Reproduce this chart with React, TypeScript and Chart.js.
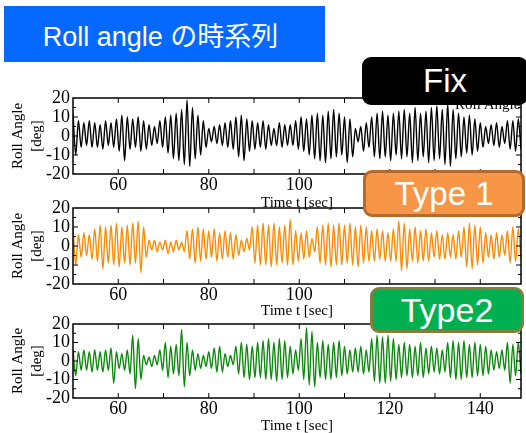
import React, { useEffect, useRef } from 'react';
import { Chart, registerables } from 'chart.js';

Chart.register(...registerables);

// ---- data ----
const timeStart = 50;
const timeStep = 0.6;
const xMin = 50;
const xMax = 149;
const yMin = -20;
const yMax = 20;
const xLabelValues = [60, 80, 100, 120, 140];
const yLabelValues = [20, 10, 0, -10, -20];

const fixValues = [
  12, -10, 8, -6, 7, -5, 8, -6, 7, -6,
  6, -7, 8, -5, 7, -6, 9, -8, 11, -13,
  10, -7, 9, -6, 10, -8, 8, -7, 6, -5,
  5, -4, 8, -6, 10, -9, 11, -12, 12, -13,
  14, -15, 19, -16, 15, -12, 11, -10, 8, -6,
  4, -3, 5, -4, 6, -5, 7, -6, 8, -7,
  10, -11, 11, -13, 9, -8, 8, -7, 7, -6,
  8, -7, 6, -5, 4, -5, 7, -6, 6, -5,
  6, -5, 8, -7, 10, -8, 9, -10, 11, -12,
  12, -13, 11, -14, 13, -12, 14, -11, 12, -10,
  10, -14, 9, -11, 4, -3, 5, -8, 7, -6,
  10, -11, 12, -12, 13, -11, 11, -13, 12, -10,
  13, -12, 14, -11, 12, -14, 15, -13, 12, -11,
  13, -14, 15, -13, 16, -12, 14, -15, 17, -16,
  14, -12, 12, -11, 10, -9, 11, -10, 9, -8,
  7, -6, 5, -4, 6, -5, 7, -6, 5, -4,
  8, -7, 8, -8, 9, -7,
];

const type1Values = [
  10, -10, 6, -6, 7, -5, 6, -7, 9, -8,
  11, -12, 10, -9, 11, -10, 12, -11, 10, -9,
  11, -10, 12, -9, 13, -14, 10, -6, 3, -2,
  3, -3, 2, -2, 3, -4, 2, -3, 3, -2,
  2, -3, 8, -7, 9, -9, 10, -8, 9, -7,
  8, -6, 9, -8, 7, -7, 8, -6, 7, -7,
  6, -5, 3, -3, 4, -2, 10, -9, 11, -10,
  12, -10, 11, -11, 12, -10, 10, -9, 11, -10,
  14, -10, 8, -8, 7, -7, 8, -6, 4, -3,
  10, -9, 11, -10, 12, -11, 11, -10, 12, -10,
  11, -9, 12, -10, 10, -11, 11, -9, 10, -8,
  8, -8, 9, -7, 8, -8, 7, -8, 9, -8,
  13, -13, 12, -12, 9, -8, 10, -9, 8, -8,
  9, -8, 7, -6, 8, -7, 6, -7, 7, -6,
  6, -7, 8, -6, 10, -11, 12, -12, 11, -10,
  10, -9, 7, -6, 6, -7, 7, -6, 6, -5,
  8, -9, 10, -8, 9, -7,
];

const type2Values = [
  6, -8, 5, -5, 6, -5, 5, -6, 6, -5,
  5, -6, 6, -5, 7, -12, 5, -4, 4, -5,
  6, -7, 14, -15, 12, -10, 3, -2, 2, -3,
  3, -2, 6, -5, 10, -9, 8, -7, 9, -8,
  17, -14, 10, -8, 6, -5, 4, -4, 3, -3,
  5, -4, 7, -6, 8, -6, 4, -3, 3, -2,
  8, -7, 10, -9, 9, -10, 8, -9, 10, -9,
  11, -10, 12, -10, 10, -11, 12, -10, 11, -9,
  8, -7, 6, -5, 12, -10, 18, -13, 16, -14,
  10, -9, 11, -10, 9, -10, 10, -9, 11, -8,
  8, -7, 6, -6, 7, -6, 8, -7, 6, -6,
  12, -11, 14, -12, 13, -12, 14, -11, 12, -10,
  9, -9, 10, -8, 9, -9, 8, -8, 10, -9,
  7, -7, 8, -6, 7, -7, 6, -6, 10, -9,
  11, -10, 10, -10, 11, -9, 9, -9, 10, -8,
  9, -8, 8, -7, 6, -5, 5, -4, 6, -5,
  10, -12, 9, -8, 10, -7,
];

const times = fixValues.map((_, i) => timeStart + i * timeStep);

const SERIF = '"Liberation Serif", "Times New Roman", serif';
const SANS = '"Liberation Sans", Arial, "Noto Sans CJK JP", sans-serif';

const framePlugin = {
  id: 'frame',
  afterDatasetsDraw(chart: any) {
    const { ctx, chartArea: a, scales } = chart;
    const xs = scales.x;
    const ys = scales.y;
    ctx.save();
    ctx.strokeStyle = '#000';
    ctx.lineWidth = 1.5;
    ctx.strokeRect(a.left, a.top, a.right - a.left, a.bottom - a.top);
    ctx.lineWidth = 1;
    ctx.beginPath();
    xs.ticks.forEach((t: any) => {
      const px = xs.getPixelForValue(t.value);
      if (px <= a.left + 1 || px >= a.right - 1) return;
      ctx.moveTo(px, a.bottom);
      ctx.lineTo(px, a.bottom - 5);
      ctx.moveTo(px, a.top);
      ctx.lineTo(px, a.top + 5);
    });
    const yt = ys.ticks.map((t: any) => t.value);
    yt.forEach((v: number, i: number) => {
      const py = ys.getPixelForValue(v);
      if (py > a.top + 1 && py < a.bottom - 1) {
        ctx.moveTo(a.left, py);
        ctx.lineTo(a.left + 5, py);
        ctx.moveTo(a.right, py);
        ctx.lineTo(a.right - 5, py);
      }
      if (i < yt.length - 1) {
        const pm = ys.getPixelForValue((v + yt[i + 1]) / 2);
        ctx.moveTo(a.left, pm);
        ctx.lineTo(a.left + 3, pm);
        ctx.moveTo(a.right, pm);
        ctx.lineTo(a.right - 3, pm);
      }
    });
    ctx.stroke();
    ctx.restore();
  },
};

type RollProps = {
  values: number[];
  color: string;
  top: number;
  plotHeight: number;
  titlePadBottom: number;
};

function RollChart({ values, color, top, plotHeight, titlePadBottom }: RollProps) {
  const ref = useRef<HTMLCanvasElement>(null);
  const padTop = 8;
  const axisH = 40;
  const height = padTop + plotHeight + axisH;
  useEffect(() => {
    if (!ref.current) return;
    const chart = new Chart(ref.current, {
      type: 'line',
      data: {
        datasets: [
          {
            data: times.map((t, i) => ({ x: t, y: values[i] })),
            borderColor: color,
            borderWidth: 1.4,
            pointRadius: 0,
            fill: false,
            cubicInterpolationMode: 'monotone',
          },
        ],
      },
      options: {
        animation: false,
        responsive: false,
        maintainAspectRatio: false,
        events: [],
        layout: { padding: { top: padTop, right: 5, left: 0, bottom: 0 } },
        plugins: { legend: { display: false }, tooltip: { enabled: false } },
        scales: {
          x: {
            type: 'linear',
            min: xMin,
            max: xMax,
            grid: { display: false, drawTicks: false },
            border: { display: false },
            ticks: {
              stepSize: 10,
              autoSkip: false,
              maxRotation: 0,
              padding: 2,
              color: '#000',
              font: { family: SERIF, size: 18, lineHeight: 1 },
              callback: (v: any) => (xLabelValues.includes(Number(v)) ? String(v) : ''),
            },
            title: {
              display: true,
              text: 'Time t [sec]',
              color: '#000',
              font: { family: SERIF, size: 15, lineHeight: 1.2 },
              padding: { top: 0, bottom: titlePadBottom },
            },
            afterFit: (s: any) => {
              s.height = axisH;
            },
          },
          y: {
            type: 'linear',
            min: yMin,
            max: yMax,
            grid: { display: false, drawTicks: false },
            border: { display: false },
            ticks: {
              stepSize: 10,
              autoSkip: false,
              padding: 3,
              color: '#000',
              font: { family: SERIF, size: 18, lineHeight: 1 },
              callback: (v: any) => (yLabelValues.includes(Number(v)) ? String(v) : ''),
            },
            title: {
              display: true,
              text: ['Roll Angle', '[deg]'],
              color: '#000',
              font: { family: SERIF, size: 15, lineHeight: 1.3 },
              padding: { top: 8, bottom: 0 },
            },
            afterFit: (s: any) => {
              s.width = 73;
            },
          },
        },
      },
      plugins: [framePlugin],
    } as any);
    return () => chart.destroy();
  }, []);
  return (
    <canvas
      ref={ref}
      width={526}
      height={height}
      style={{ position: 'absolute', left: 0, top: top, width: 526, height: height }}
    />
  );
}

const boxBase: React.CSSProperties = {
  position: 'absolute',
  boxSizing: 'border-box',
  display: 'flex',
  alignItems: 'center',
  justifyContent: 'center',
  color: '#fff',
  fontFamily: SANS,
  whiteSpace: 'nowrap',
};

export default function App() {
  return (
    <div
      style={{
        position: 'absolute',
        left: 0,
        top: 0,
        width: 526,
        height: 433,
        overflow: 'hidden',
        background: '#fff',
      }}
    >
      <RollChart values={fixValues} color="#000000" top={86} plotHeight={80} titlePadBottom={2} />
      <RollChart values={type1Values} color="#ff8a00" top={196} plotHeight={80} titlePadBottom={4} />
      <RollChart values={type2Values} color="#0a8a0a" top={312} plotHeight={78} titlePadBottom={3} />

      <div
        style={{
          position: 'absolute',
          left: 455,
          top: 97,
          fontFamily: SERIF,
          fontSize: 15,
          lineHeight: '15px',
          color: '#000',
          whiteSpace: 'nowrap',
        }}
      >
        Roll Angle
      </div>

      <div
        style={{
          ...boxBase,
          left: 4,
          top: 6,
          width: 321,
          height: 56,
          background: '#0569ff',
          fontSize: 27,
          paddingRight: 8,
        }}
      >
        Roll angle の時系列
      </div>

      <div
        style={{
          ...boxBase,
          left: 362,
          top: 57,
          width: 166,
          height: 48,
          background: '#000',
          borderRadius: 9,
          fontSize: 33,
        }}
      >
        Fix
      </div>

      <div
        style={{
          ...boxBase,
          left: 363,
          top: 170,
          width: 162,
          height: 47,
          background: '#f79646',
          border: '3px solid #b46a2c',
          borderRadius: 9,
          fontSize: 33,
        }}
      >
        Type 1
      </div>

      <div
        style={{
          ...boxBase,
          left: 370,
          top: 287,
          width: 154,
          height: 46,
          background: '#00b050',
          border: '3px solid #7f7f3f',
          borderRadius: 9,
          fontSize: 34,
        }}
      >
        Type2
      </div>
    </div>
  );
}
